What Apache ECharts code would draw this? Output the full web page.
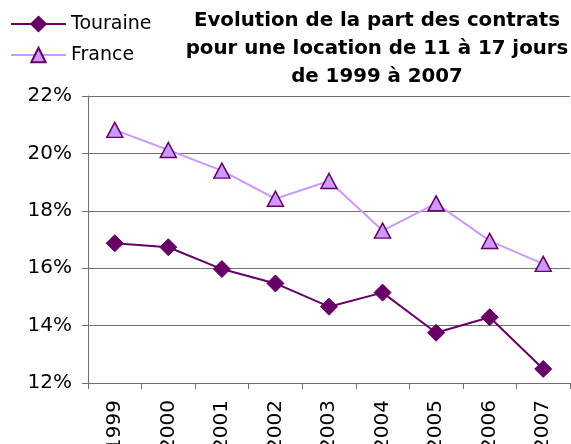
<!DOCTYPE html>
<html>
<head>
<meta charset="utf-8">
<title>Evolution contrats 11 à 17 jours</title>
<script src="https://cdn.jsdelivr.net/npm/echarts@6/dist/echarts.min.js"></script>
<style>
  html, body { margin: 0; padding: 0; background: #fff; }
  #chart { width: 571px; height: 444px; }
</style>
</head>
<body>
<div id="chart"></div>
<script>
var years = ['1999', '2000', '2001', '2002', '2003', '2004', '2005', '2006', '2007'];
var touraine = [16.87, 16.73, 15.97, 15.47, 14.66, 15.15, 13.75, 14.29, 12.49];
var france = [20.82, 20.12, 19.40, 18.42, 19.04, 17.31, 18.26, 16.95, 16.15];

var chart = echarts.init(document.getElementById('chart'));
var fontName = 'DejaVu Sans';
var gridGray = '#707070';

chart.setOption({
  animation: false,
  backgroundColor: '#fff',
  textStyle: { fontFamily: fontName, color: '#000' },
  title: {
    text: 'Evolution de la part des contrats\npour une location de 11 à 17 jours\nde 1999 à 2007',
    left: 372,
    textAlign: 'center',
    top: 2,
    textStyle: { fontFamily: fontName, fontSize: 19.8, fontWeight: 'bold', color: '#000', lineHeight: 28 }
  },
  legend: {
    orient: 'vertical',
    left: 5,
    top: 9,
    itemWidth: 55,
    itemHeight: 18,
    itemGap: 11,
    textStyle: { fontFamily: fontName, fontSize: 19, color: '#000', lineHeight: 20 },
    data: ['Touraine', 'France']
  },
  grid: { left: 88, right: 1, top: 96, bottom: 61, containLabel: false, outerBoundsMode: 'none' },
  xAxis: {
    type: 'category',
    data: years,
    boundaryGap: true,
    axisLine: { lineStyle: { color: gridGray, width: 1 } },
    axisTick: { show: true, length: 6, lineStyle: { color: gridGray } },
    axisLabel: { rotate: 90, margin: 17, fontSize: 20, color: '#000', fontFamily: fontName }
  },
  yAxis: {
    type: 'value',
    min: 12,
    max: 22,
    interval: 2,
    axisLine: { show: true, lineStyle: { color: gridGray, width: 1 } },
    axisTick: { show: true, length: 6, lineStyle: { color: gridGray } },
    splitLine: { show: true, lineStyle: { color: gridGray, width: 1 } },
    axisLabel: { formatter: '{value}%', margin: 16, fontSize: 20, color: '#000', fontFamily: fontName }
  },
  series: [
    {
      name: 'Touraine',
      type: 'line',
      data: touraine,
      symbol: 'diamond',
      symbolSize: 17,
      lineStyle: { color: '#660066', width: 2 },
      itemStyle: { color: '#660066', borderColor: '#660066', borderWidth: 1 }
    },
    {
      name: 'France',
      type: 'line',
      data: france,
      symbol: 'triangle',
      symbolSize: [16, 15],
      lineStyle: { color: '#cc99ff', width: 2 },
      itemStyle: { color: '#cc99ff', borderColor: '#660066', borderWidth: 1.5 }
    }
  ]
});
</script>
</body>
</html>
